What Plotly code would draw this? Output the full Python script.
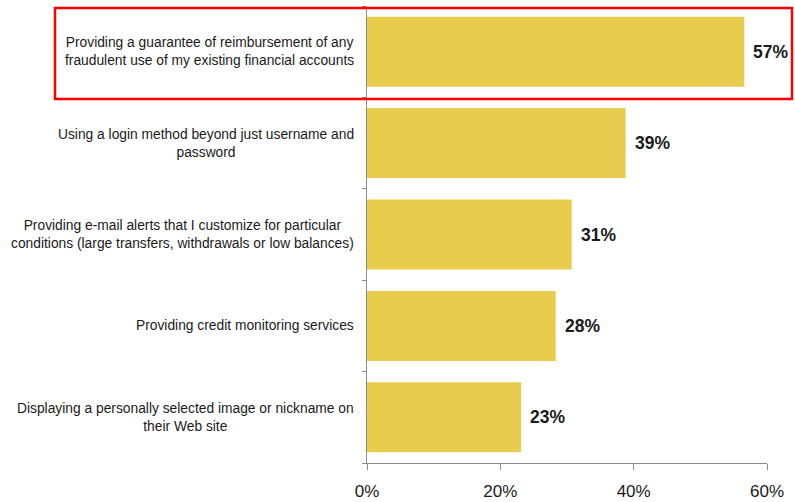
import plotly.graph_objects as go

categories = [
    "Providing a guarantee of reimbursement of any<br>fraudulent use of my existing financial accounts",
    "Using a login method beyond just username and<br>password",
    "Providing e-mail alerts that I customize for particular<br>conditions (large transfers, withdrawals or low balances)",
    "Providing credit monitoring services",
    "Displaying a personally selected image or nickname on<br>their Web site",
]
values = [56.6, 38.8, 30.7, 28.3, 23.1]
value_labels = ["57%", "39%", "31%", "28%", "23%"]
tick_vals = [0, 20, 40, 60]
tick_text = ["0%", "20%", "40%", "60%"]

BAR = "#E8CC4E"
TXT = "#1a1a1a"
AX = "#8c8c8c"

fig = go.Figure(go.Bar(
    x=values, y=categories, orientation="h",
    marker=dict(color=BAR, line=dict(width=0)),
    hoverinfo="skip",
))

annotations = []
for c, v, t in zip(categories, values, value_labels):
    annotations.append(dict(
        x=v, y=c, xref="x", yref="y", text=t, showarrow=False,
        xanchor="left", yanchor="middle", xshift=7,
        font=dict(family="Liberation Sans, Arial", size=17.5, color=TXT, weight="bold"),
    ))
    annotations.append(dict(
        x=-0.027, y=c, xref="paper", yref="y", text=c, showarrow=False,
        xanchor="right", yanchor="middle", align="center",
        font=dict(family="Liberation Sans, Arial", size=13.8, color=TXT),
    ))

fig.update_layout(
    width=795, height=502,
    margin=dict(l=367, r=28, t=6, b=39, autoexpand=False),
    paper_bgcolor="white", plot_bgcolor="white",
    bargap=0.234,
    showlegend=False,
    annotations=annotations,
    shapes=[dict(
        type="rect", xref="paper", yref="paper",
        x0=-0.78, x1=1.0625, y0=0.7965, y1=0.9956,
        line=dict(color="#FF0000", width=2.5), fillcolor="rgba(0,0,0,0)",
    )],
    xaxis=dict(
        range=[0, 60], tickvals=tick_vals, ticktext=tick_text,
        showgrid=False, zeroline=False, showline=True, linecolor=AX, linewidth=1,
        ticks="outside", ticklen=6, tickcolor=AX, ticklabelstandoff=7,
        tickfont=dict(family="Liberation Sans, Arial", size=17, color=TXT),
        automargin=False, fixedrange=True,
    ),
    yaxis=dict(
        categoryorder="array", categoryarray=categories[::-1],
        showticklabels=False, showgrid=False, zeroline=False,
        showline=True, linecolor=AX, linewidth=1,
        ticks="outside", ticklen=4, tickcolor=AX, tickson="boundaries",
        automargin=False, fixedrange=True,
    ),
)

fig.write_html("out.html")
